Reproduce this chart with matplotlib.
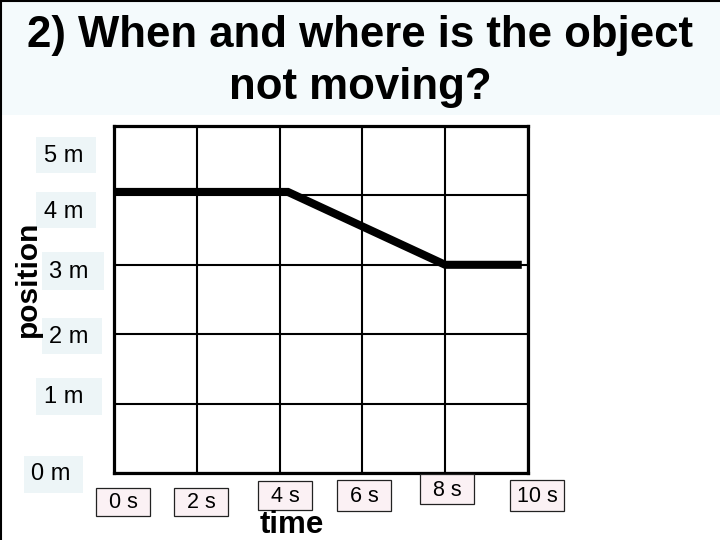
import matplotlib
matplotlib.use("Agg")
import matplotlib.pyplot as plt
from matplotlib.patches import Rectangle
from matplotlib.lines import Line2D

# ---- data ----
time_s = [0, 4.2, 8, 9.85]
position_m = [4.05, 4.05, 3.0, 3.0]
x_ticks = [0, 2, 4, 6, 8, 10]
y_ticks = [0, 1, 2, 3, 4, 5]
x_tick_labels = ["0 s", "2 s", "4 s", "6 s", "8 s", "10 s"]
y_tick_labels = ["0 m", "1 m", "2 m", "3 m", "4 m", "5 m"]
title_lines = ["2) When and where is the object", "not moving?"]

# ---- layout (pixels, origin top-left) ----
W, H = 720, 540
FONT = ["Liberation Sans", "DejaVu Sans"]

def fx(px):
    return px / W

def fy(py):
    return 1 - py / H

fig = plt.figure(figsize=(7.2, 5.4), dpi=100)
fig.patch.set_facecolor("white")

# title band
fig.add_artist(Rectangle((0, fy(115)), 1, 115 / H, transform=fig.transFigure,
                         facecolor="#F4FAFC", edgecolor="none", zorder=0))
fig.text(0.5, fy(47), title_lines[0], ha="center", va="baseline",
         fontsize=31.5, fontweight="bold", family=FONT)
fig.text(0.5, fy(99), title_lines[1], ha="center", va="baseline",
         fontsize=31.5, fontweight="bold", family=FONT)

# page border (left and top)
fig.add_artist(Line2D([fx(0.8), fx(0.8)], [0, 1], transform=fig.transFigure,
                      color="black", lw=1.5))
fig.add_artist(Line2D([0, 1], [fy(0.8), fy(0.8)], transform=fig.transFigure,
                      color="black", lw=1.5))

# axes
L, R, T, B = 114, 528, 126, 473
ax = fig.add_axes([fx(L), fy(B), (R - L) / W, (B - T) / H])
ax.set_xlim(x_ticks[0], x_ticks[-1])
ax.set_ylim(y_ticks[0], y_ticks[-1])
ax.set_xticks(x_ticks)
ax.set_yticks(y_ticks)
ax.tick_params(length=0, labelbottom=False, labelleft=False)
ax.grid(True, color="black", lw=1.5)
for s in ax.spines.values():
    s.set_linewidth(2.3)
    s.set_color("black")
ax.set_facecolor("white")

ax.plot(time_s, position_m, color="black", lw=5.8, solid_capstyle="butt",
        solid_joinstyle="miter", clip_on=False, zorder=5)

# y labels boxes (x0, x1, y0, y1, text cx, text cy)
y_boxes = [
    (24, 83, 456, 493, 51, 474),
    (36, 102, 378, 415, 64, 397),
    (42, 102, 318, 354, 69, 337),
    (42, 104, 252, 290, 69, 272),
    (36, 96, 192, 228, 64, 212),
    (36, 96, 137, 173, 64, 156),
]
for lab, (x0, x1, y0, y1, cx, cy) in zip(y_tick_labels, y_boxes):
    fig.add_artist(Rectangle((fx(x0), fy(y1)), (x1 - x0) / W, (y1 - y0) / H,
                             transform=fig.transFigure, facecolor="#EDF5F7",
                             edgecolor="none", zorder=1))
    fig.text(fx(cx), fy(cy), lab, ha="center", va="center", fontsize=17,
             family=FONT, zorder=2)

# x labels boxes
x_boxes = [
    (96, 150, 488, 516),
    (174, 228, 488, 516),
    (258, 312, 481, 510),
    (337, 391, 480, 511),
    (420, 474, 474, 504),
    (510, 564, 480, 511),
]
for lab, (x0, x1, y0, y1) in zip(x_tick_labels, x_boxes):
    fig.add_artist(Rectangle((fx(x0), fy(y1)), (x1 - x0) / W, (y1 - y0) / H,
                             transform=fig.transFigure, facecolor="#FBF1F4",
                             edgecolor="#222222", lw=0.9, zorder=1))
    fig.text(fx((x0 + x1) / 2), fy((y0 + y1) / 2 + 1), lab, ha="center",
             va="center", fontsize=15.5, family=FONT, zorder=2)

# axis titles
fig.text(fx(28), fy(279), "position", rotation=90, ha="center", va="center",
         fontsize=21.5, fontweight="bold", family=FONT)
fig.text(fx(292), fy(533), "time", ha="center", va="baseline",
         fontsize=22.5, fontweight="bold", family=FONT)

fig.savefig("out.png", dpi=100)
